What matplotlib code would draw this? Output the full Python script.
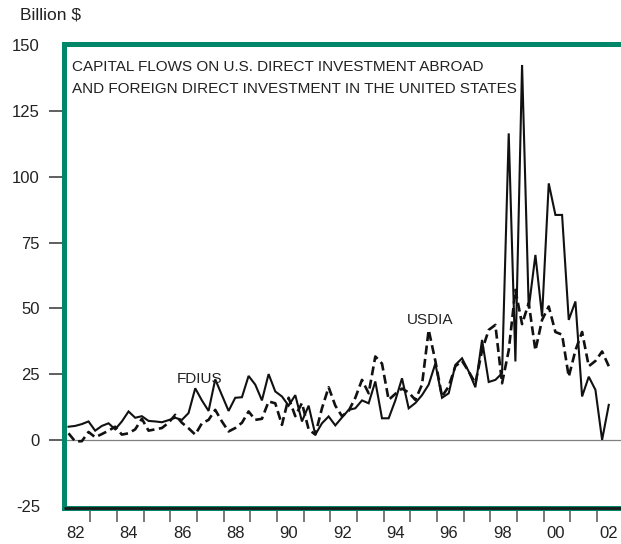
import numpy as np
import matplotlib
matplotlib.use('Agg')
import matplotlib.pyplot as plt
from matplotlib.ticker import FixedLocator

# =====================================
# DATA (quarterly, 1982Q1 - 2002Q2, billion $)
# =====================================

start_year = 1982
fdius = [5, 5.3, 6, 7, 3.5, 5.3, 6.3, 4, 7, 10.8,
         8.4, 9, 7.2, 7, 6.7, 7.5, 8.4, 7.6, 10.2, 19.6,
         15, 11, 23, 17, 11, 16, 16.2, 24.3, 21, 15,
         25, 18.4, 16.5, 13, 17, 7, 13, 2, 6.3, 8.9,
         5.5, 8.5, 11.4, 12, 15, 13.9, 22.2, 8.2, 8.2, 15,
         23.4, 12, 14, 17, 21, 29, 16, 17.7, 28.5, 31,
         26, 20, 38, 22, 22.8, 25.3, 116.5, 29.8, 142.5, 50,
         70.3, 46.9, 97.5, 85.5, 85.5, 45.6, 52.6, 16.5, 24, 19,
         0, 13.3]
usdia = [2.5, -0.6, -0.5, 3, 1, 2.2, 3.5, 5, 2, 2.5,
         4, 8, 3.5, 4, 4.5, 6.5, 9.5, 6.5, 4.4, 2,
         6.3, 7.6, 11.4, 7, 3.2, 4.5, 6.5, 10.8, 7.6, 8,
         14.6, 13.9, 5.7, 16, 9, 14, 4, 2, 12, 20,
         13, 9, 11, 16, 22.8, 17.7, 31.7, 29, 15.2, 17.5,
         19.5, 18, 15.2, 21, 41.8, 30, 16.5, 20.3, 28, 30,
         26, 21.5, 34, 41.8, 43.7, 21.5, 34, 57, 44, 52,
         34, 45.6, 50.7, 41, 40, 24, 34, 41, 28, 30,
         33.6, 28]
year_labels = ['82', '84', '86', '88', '90', '92', '94', '96', '98', '00', '02']
y_ticks = [-25, 0, 25, 50, 75, 100, 125, 150]

title_lines = ['CAPITAL FLOWS ON U.S. DIRECT INVESTMENT ABROAD',
               'AND FOREIGN DIRECT INVESTMENT IN THE UNITED STATES']

GREEN = '#00876a'
TEXT = '#222222'
plt.rcParams['font.family'] = ['Liberation Sans', 'DejaVu Sans']

# quarter positions
t = start_year + (np.arange(len(fdius)) + 0.75) / 4

# =====================================
# FIGURE
# =====================================

W, H = 621, 544
fig = plt.figure(figsize=(W / 100, H / 100), dpi=100)
ax = fig.add_axes([63.5 / W, (H - 508) / H, (W - 63.5) / W, (508 - 44.2) / H])

ax.axhline(0, color='#808080', lw=0.9, zorder=1)
ax.plot(t, fdius, color='#111111', lw=1.5, zorder=3, solid_joinstyle='miter')
ax.plot(t, usdia, color='#111111', lw=1.9, zorder=3, dashes=(3.4, 1.7))

ax.set_xlim(start_year, start_year + (W - 63.5) / 26.68)
ax.set_ylim(-25.9, 150.4)

# frame
for side in ['left', 'top', 'bottom']:
    ax.spines[side].set_color(GREEN)
    ax.spines[side].set_linewidth(3.6)
ax.spines['right'].set_visible(False)
ax.plot([0, 1], [0, 0], transform=ax.transAxes, color='#1a1a1a', lw=2.0,
        clip_on=False, zorder=6, solid_capstyle='butt')

# y axis
ax.set_yticks(y_ticks)
ax.set_yticklabels([str(v) for v in y_ticks])
ax.tick_params(axis='y', direction='out', length=11, width=1.1, color='#333333',
               pad=6, labelsize=12, labelcolor=TEXT)
for tk, v in zip(ax.yaxis.get_major_ticks(), y_ticks):
    if v in (-25, 150):
        tk.tick1line.set_visible(False)

# x axis: ticks at year boundaries, labels mid-year
ax.xaxis.set_major_locator(FixedLocator(np.arange(start_year + 1, 2003)))
ax.xaxis.set_major_formatter(plt.NullFormatter())
ax.xaxis.set_minor_locator(FixedLocator(np.arange(start_year, 2003, 2) + 0.45))
ax.set_xticklabels(year_labels, minor=True)
ax.tick_params(axis='x', which='major', direction='out', length=10, width=1.1,
               color='#555555')
ax.tick_params(axis='x', which='minor', length=0, pad=13, labelsize=12,
               labelcolor=TEXT)

# texts
fig.text(20 / W, 1 - 19.5 / H, 'Billion $', fontsize=12.5, color=TEXT,
         va='baseline', ha='left')
ax.text(1982.32, 140.3, title_lines[0], fontsize=11, color=TEXT, va='baseline')
ax.text(1982.32, 131.8, title_lines[1], fontsize=11, color=TEXT, va='baseline')
ax.text(1986.24, 21.5, 'FDIUS', fontsize=11, color=TEXT, va='baseline')
ax.text(1994.86, 44.1, 'USDIA', fontsize=11, color=TEXT, va='baseline')

fig.savefig('out.png', dpi=100)
